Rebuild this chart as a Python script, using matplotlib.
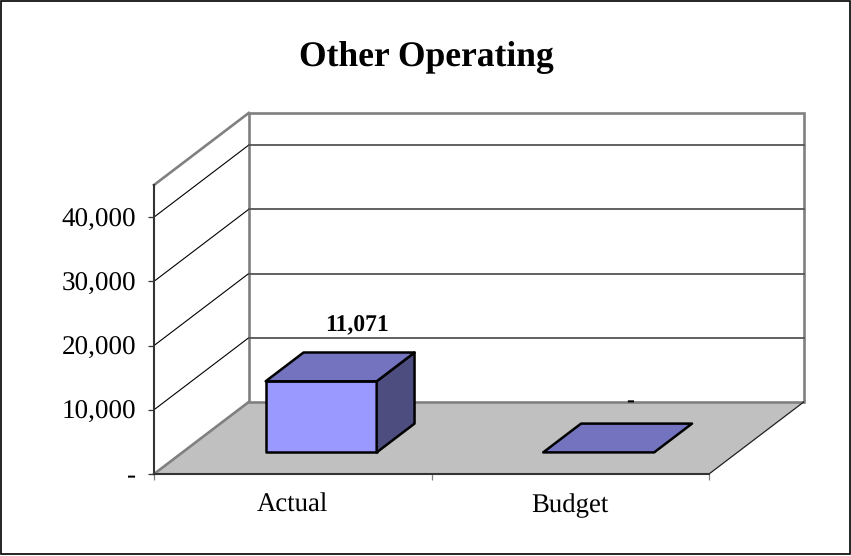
import matplotlib
matplotlib.use('Agg')
import matplotlib.pyplot as plt
from matplotlib.patches import Polygon, Rectangle
from matplotlib.ticker import FuncFormatter

categories = ['Actual', 'Budget']
values = [11071, 0]
value_labels = ['11,071', '-']
y_ticks = [0, 10000, 20000, 30000, 40000]
y_max = 45000
title = 'Other Operating'

plt.rcParams['font.family'] = ['Liberation Serif', 'DejaVu Serif']
plt.rcParams['text.hinting'] = 'no_hinting'

W, H = 851, 556
fig = plt.figure(figsize=(W / 100, H / 100), dpi=100, facecolor='white')
fig.add_artist(Rectangle((0.001, 0.004), 0.998, 0.995, transform=fig.transFigure,
                         fill=False, edgecolor='black', linewidth=1.2))

# axes covers the front plane of the fake 3d box
ax = fig.add_axes([154 / W, (H - 474) / H, 555 / W, 289 / H])
ax.set_xlim(0, len(categories))
ax.set_ylim(0, y_max)
ax.patch.set_visible(False)

depth_x = 94.7 / 555 * len(categories)
depth_y = 72 / 289 * y_max


def proj(x, v, d=0):
    """category position, value, depth (0 front, 1 back) to axes data coords"""
    return (x + d * depth_x, v + d * depth_y)


def face(points, **kw):
    p = Polygon([proj(*q) for q in points], closed=True, clip_on=False, **kw)
    ax.add_patch(p)


n = len(categories)
grey = '#808080'

# floor and walls
face([(0, 0, 0), (n, 0, 0), (n, 0, 1), (0, 0, 1)], facecolor='#c0c0c0', edgecolor='none', zorder=1)
face([(0, 0, 1), (n, 0, 1), (n, y_max, 1), (0, y_max, 1)], facecolor='white', edgecolor=grey,
     linewidth=1.9, zorder=1)
for a, b in [((0, 0, 0), (0, 0, 1)), ((0, y_max, 0), (0, y_max, 1))]:
    xs, ys = zip(proj(*a), proj(*b))
    ax.plot(xs, ys, color=grey, lw=1.9, clip_on=False, zorder=2)
xs, ys = zip(proj(n, 0, 0), proj(n, 0, 1))
ax.plot(xs, ys, color='#202020', lw=0.9, clip_on=False, zorder=2)

# gridlines
for t in y_ticks[1:]:
    xs, ys = zip(proj(0, t, 0), proj(0, t, 1))
    ax.plot(xs, ys, color='black', lw=0.8, clip_on=False, zorder=2)
    xs, ys = zip(proj(0, t, 1), proj(n, t, 1))
    ax.plot(xs, ys, color='#555555', lw=1.3, clip_on=False, zorder=2)

# bars, 0.3-0.7 of the category in width and depth
for i, v in enumerate(values):
    x0, x1 = i + 0.3, i + 0.7
    d0, d1 = 0.3, 0.7
    style = dict(edgecolor='black', linewidth=1.8, joinstyle='round', zorder=4)
    if v > 0:
        face([(x0, 0, d0), (x1, 0, d0), (x1, v, d0), (x0, v, d0)], facecolor='#9999ff', **style)
        face([(x1, 0, d0), (x1, 0, d1), (x1, v, d1), (x1, v, d0)], facecolor='#4d4d80', **style)
    face([(x0, v, d0), (x1, v, d0), (x1, v, d1), (x0, v, d1)], facecolor='#7373bf', **style)
    lx, ly = proj(i + 0.5, v, 0.5)
    offset = (12, 29.5) if v > 0 else (9, 26)
    ax.annotate(value_labels[i], (lx, ly), xytext=offset, textcoords='offset points',
                ha='center', va='center', fontsize=17, fontweight='bold', zorder=5,
                annotation_clip=False)

# axes
for s in ['top', 'right']:
    ax.spines[s].set_visible(False)
for s in ['left', 'bottom']:
    ax.spines[s].set_color('#333333')
    ax.spines[s].set_linewidth(1.5)
    ax.spines[s].set_zorder(3)

ax.set_yticks(y_ticks)
ax.yaxis.set_major_formatter(FuncFormatter(lambda v, pos: '-' if v == 0 else f'{int(v):,}'))
ax.tick_params(axis='y', length=4.5, width=0.9, color='#333333', labelsize=19.5, pad=8.3)
ax.set_xticks(range(n + 1))
ax.set_xticks([i + 0.5 for i in range(n)], minor=True)
ax.set_xticklabels([])
ax.set_xticklabels(categories, minor=True)
ax.tick_params(axis='x', which='major', length=4, width=0.9, color='#808080')
ax.tick_params(axis='x', which='minor', length=0, labelsize=19.3, pad=14)

fig.text(426.5 / W, 1 - 58 / H, title, ha='center', va='center', fontsize=25.6, fontweight='bold')

plt.savefig('out.png', dpi=100)
plt.close()
